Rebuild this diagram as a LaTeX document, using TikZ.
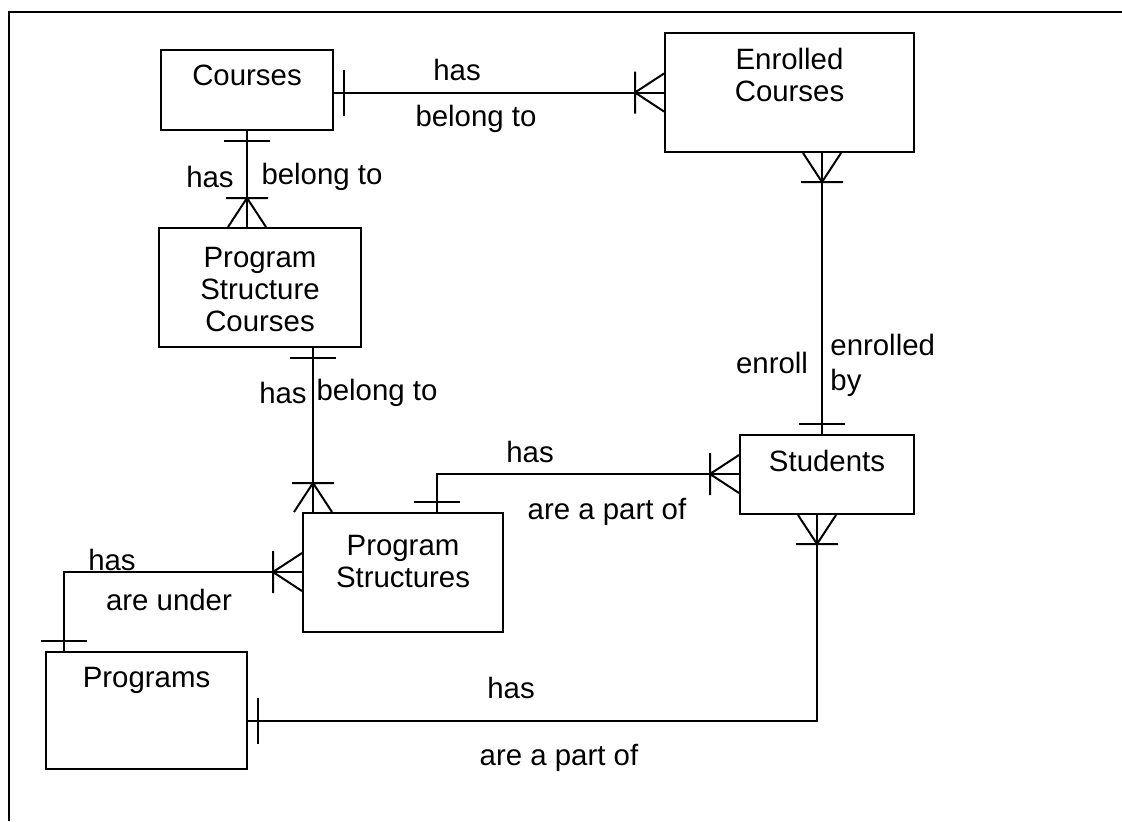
\documentclass[tikz,border=0pt]{standalone}
\usepackage{fontspec}
\setmainfont{Liberation Sans}
\usetikzlibrary{decorations.markings}
\newcommand{\erfont}{\fontsize{14.7}{16}\selectfont}

\begin{document}
\begin{tikzpicture}[x=0.5pt,y=-0.5pt,
   entity/.style={draw,line width=1pt,inner sep=0pt},
   etext/.style={anchor=north,align=center,inner sep=8pt,font=\erfont},
   rel/.style={inner sep=0pt,font=\erfont},
   erline/.style={line width=1pt,postaction={decorate},decoration={markings,
     mark=at position 5pt with {\draw[line width=1pt] (0pt,-11.5pt) -- (0pt,11.5pt);},
     mark=at position -14.5pt with {\draw[line width=1pt] (0pt,-10.5pt) -- (0pt,10.5pt)
        (14.5pt,9.5pt) -- (0pt,0pt) -- (14.5pt,-9.5pt);}}}]
   \useasboundingbox (0,0) rectangle (1122,821);
   \draw[line width=1.3pt] (9,821) -- (9,12) -- (1122,12);

   \node (courses)  at (247,90)     [entity,minimum width=86pt,minimum height=40pt,label={[etext]north:Courses}] {};
   \node (enrolled) at (789.5,92.5) [entity,minimum width=124.5pt,minimum height=59.5pt,label={[etext]north:Enrolled\\Courses}] {};
   \node (psc)      at (260,287.5)  [entity,minimum width=101pt,minimum height=59.5pt,label={[etext,yshift=-2pt]north:Program\\Structure\\Courses}] {};
   \node (ps)       at (403,572.5)  [entity,minimum width=100pt,minimum height=59.5pt,label={[etext,yshift=-3.5pt]north:Program\\Structures}] {};
   \node (students) at (827,474.5)  [entity,minimum width=87pt,minimum height=39.5pt,label={[etext]north:Students}] {};
   \node (programs) at (146.5,710.5) [entity,minimum width=100.5pt,minimum height=58.5pt,label={[etext]north:Programs}] {};

   \coordinate (pscx) at (313,0);
   \coordinate (ecx) at (822,0);
   \coordinate (psbend) at (437,474);
   \coordinate (stubend) at (817,721);
   \coordinate (progbend) at (64,572);

   \draw[erline] (enrolled.west -| courses.east) to (enrolled.west);
   \draw[erline] (courses.south) to (courses.south |- psc.north);
   \draw[erline] (psc.south -| pscx) to (ps.north -| pscx);
   \draw[erline] (ps.north -| psbend) -- (psbend) -- (psbend -| students.west);
   \draw[erline] (students.north -| ecx) to (enrolled.south -| ecx);
   \draw[erline] (stubend -| programs.east) -- (stubend) -- (students.south -| stubend);
   \draw[erline] (programs.north -| progbend) -- (progbend) -- (progbend -| ps.west);

   \node (r1a) at (457,70)  [rel] {has};
   \node (r1b) at (476,119) [rel] {belong to};
   \node (r2a) at (210,177) [rel] {has};
   \node (r2b) at (322,177) [rel] {belong to};
   \node (r3a) at (283,393) [rel] {has};
   \node (r3b) at (377,393) [rel] {belong to};
   \node (r4a) at (530,452) [rel] {has};
   \node (r4b) at (607,512) [rel] {are a part of};
   \node (r5a) at (772,363) [rel] {enroll};
   \node (r5b) at (830,365) [rel,anchor=west,align=left,font=\fontsize{14.7}{17.5}\selectfont] {enrolled\\by};
   \node (r6a) at (511,688) [rel] {has};
   \node (r6b) at (559,758) [rel] {are a part of};
   \node (r7a) at (112,560) [rel] {has};
   \node (r7b) at (169,600) [rel] {are under};
\end{tikzpicture}
\end{document}
